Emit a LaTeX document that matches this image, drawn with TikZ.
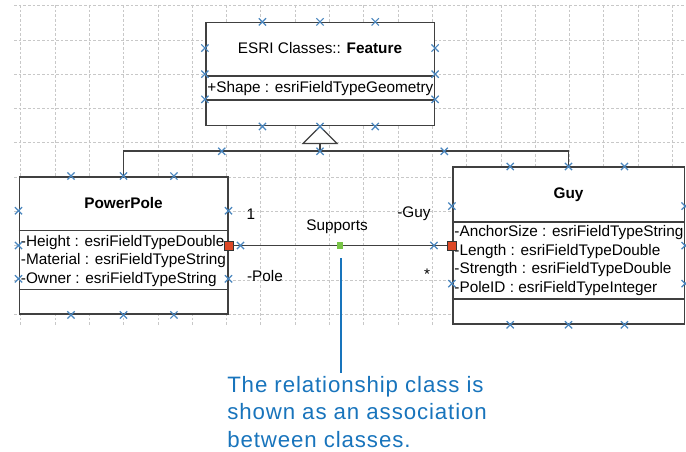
\documentclass[tikz,border=0pt]{standalone}
\usepackage{fontspec}
\setmainfont{Liberation Sans}
\newfontfamily\notefont[LetterSpace=4]{Liberation Sans}
\usetikzlibrary{shapes.misc,calc}
\definecolor{gridgray}{RGB}{200,200,200}
\definecolor{umlline}{RGB}{64,64,64}
\definecolor{handleblue}{RGB}{74,134,190}
\definecolor{endred}{RGB}{222,72,38}
\definecolor{midgreen}{RGB}{120,196,70}
\definecolor{noteblue}{RGB}{24,116,188}

\begin{document}
\begin{tikzpicture}[x=0.75pt,y=-0.75pt,
  gridline/.style={gridgray,line width=0.6pt,dash pattern=on 2pt off 1.5pt},
  uml/.style={umlline,line width=1.2pt},
  classbox/.style={draw=umlline,line width=1.2pt,fill=white,inner sep=0pt},
  boxtext/.style={font=\fontsize{11.5}{13.9}\selectfont,inner sep=0.5pt},
  attrs/.style={boxtext,align=left,anchor=west},
  handle/.style={cross out,draw=handleblue,line width=0.9pt,minimum size=4.5pt,inner sep=0pt},
  endsq/.style={rectangle,draw=black!80,fill=endred,line width=0.6pt,minimum size=6.8pt,inner sep=0pt},
  midsq/.style={rectangle,fill=midgreen,minimum size=4.8pt,inner sep=0pt},
  note/.style={font=\notefont\fontsize{16.7}{20.6}\selectfont,text=noteblue,align=left,inner sep=0pt}]
  \useasboundingbox (0,0) rectangle (686,452);

  % grid
  \foreach \k in {0,...,19}
    \draw[gridline] ({20.7+34.3*\k},5) -- ({20.7+34.3*\k},326);
  \foreach \k in {0,...,9}
    \draw[gridline] (14,{5.7+34.3*\k}) -- (686,{5.7+34.3*\k});

  % classes
  \node[classbox,minimum width={228.6*0.75pt},minimum height={103*0.75pt}] (feature) at (320,74.2) {};
  \node[classbox,minimum width={208.4*0.75pt},minimum height={137.3*0.75pt}] (pole) at (123.5,245.5) {};
  \node[classbox,minimum width={231.6*0.75pt},minimum height={156.7*0.75pt}] (guy) at (568.5,245.65) {};

  \draw[uml] ($(feature.north west)+(0,54)$) -- ($(feature.north east)+(0,54)$);
  \draw[uml] ($(feature.north west)+(0,78.3)$) -- ($(feature.north east)+(0,78.3)$);
  \draw[uml] ($(pole.north west)+(0,54.3)$) -- ($(pole.north east)+(0,54.3)$);
  \draw[uml] ($(pole.north west)+(0,113.3)$) -- ($(pole.north east)+(0,113.3)$);
  \draw[uml] ($(guy.north west)+(0,55.4)$) -- ($(guy.north east)+(0,55.4)$);
  \draw[uml] ($(guy.north west)+(0,132.7)$) -- ($(guy.north east)+(0,132.7)$);

  \node[boxtext] (featuretitle) at (320,48.5) {ESRI Classes:: \textbf{Feature}};
  \node[boxtext,anchor=west] (featureattr) at (206.5,88.5) {+Shape : esriFieldTypeGeometry};
  \node[boxtext,font=\fontsize{11.5}{13.9}\selectfont\bfseries] (poletitle) at (123.5,203) {PowerPole};
  \node[attrs] (poleattr) at (20,261) {-Height : esriFieldTypeDouble\\-Material : esriFieldTypeString\\-Owner : esriFieldTypeString};
  \node[boxtext,font=\fontsize{11.5}{13.9}\selectfont\bfseries] (guytitle) at (568.5,195) {Guy};
  \node[attrs] (guyattr) at (453.5,260.5) {-AnchorSize : esriFieldTypeString\\-Length : esriFieldTypeDouble\\-Strength : esriFieldTypeDouble\\-PoleID : esriFieldTypeInteger};

  % generalization
  \draw[umlline,line width=0.9pt,fill=white] (feature.south) -- ++(17,17) -- ++(-34,0) -- cycle;
  \coordinate (tribase) at ($(feature.south)+(0,17)$);
  \coordinate (junction) at ($(feature.south)+(0,24.8)$);
  \draw[uml] (tribase) -- (junction) -| (pole.north);
  \draw[uml] (junction) -| (guy.north);

  % selection handles
  \foreach \b in {feature,pole,guy}
    \foreach \t [count=\k] in {0.25,0.5,0.74} {
      \node[handle] (\b n\k) at ($(\b.north west)!\t!(\b.north east)$) {};
      \node[handle] (\b s\k) at ($(\b.south west)!\t!(\b.south east)$) {};
      \node[handle] (\b w\k) at ($(\b.north west)!\t!(\b.south west)$) {};
      \node[handle] (\b e\k) at ($(\b.north east)!\t!(\b.south east)$) {};
    }
  \node[handle] (junctionl) at ($(junction)!0.5!(junction -| pole.north)$) {};
  \node[handle] (junctionr) at ($(junction)!0.5!(junction -| guy.north)$) {};
  \node[handle] (junctionm) at (junction) {};

  % association
  \node[endsq] (poleend) at (pole.east) {};
  \node[endsq] (guyend) at (guy.west |- poleend) {};
  \draw[uml] (poleend) -- (guyend);
  \node[handle] (poleendh) at ($(poleend)+(12,0)$) {};
  \node[handle] (guyendh) at ($(guyend)+(-18,0)$) {};
  \node[midsq] (supp) at ($(poleend)!0.5!(guyend)$) {};

  \node[boxtext] (suppname) at (337,227) {Supports};
  \node[boxtext] (polemult) at (251,214) {1};
  \node[boxtext] (guyrole) at (414,214) {-Guy};
  \node[boxtext] (polerole) at (265,276) {-Pole};
  \node[boxtext] (guymult) at (427,274) {*};

  % callout
  \coordinate (ctop) at ($(supp)+(1,13)$);
  \node[note,anchor=north west] (note) at (227,376) {The relationship class is\\shown as an association\\between classes.};
  \draw[noteblue,line width=1.5pt] (ctop) -- ($(ctop |- note.north)+(0,-3)$);
\end{tikzpicture}
\end{document}
